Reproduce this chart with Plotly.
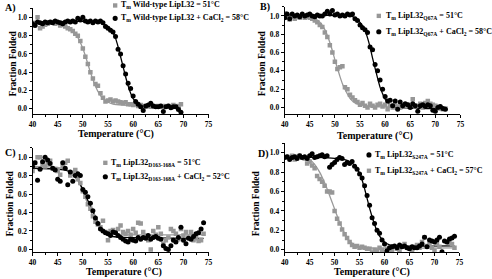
import plotly.graph_objects as go

W, H = 492, 279

# ---------------- Panel A: Wild-type LipL32 ----------------
A_T = [40.0,40.5,41.0,41.5,42.0,42.5,43.0,43.5,44.0,44.5,45.0,45.5,46.0,46.5,47.0,47.5,48.0,48.5,49.0,49.5,
       50.0,50.5,51.0,51.5,52.0,52.5,53.0,53.5,54.0,54.5,55.0,55.5,56.0,56.5,57.0,57.5,58.0,58.5,59.0,59.5,
       60.0,60.5,61.0,61.5,62.0,62.5,63.0,63.5,64.0,64.5,65.0,65.5,66.0,66.5,67.0,67.5,68.0,68.5,69.0,69.5]
A_gray = [0.94,0.92,1.00,0.88,0.90,0.92,0.93,0.94,0.95,0.93,0.94,0.91,0.92,0.90,0.88,0.87,0.85,0.82,0.80,0.74,
          0.66,0.57,0.49,0.40,0.33,0.27,0.25,0.17,0.12,0.08,0.09,0.10,0.08,0.09,0.08,0.07,0.06,0.07,0.05,0.05,
          0.04,0.05,0.03,0.04,0.03,0.02,0.03,0.02,0.03,0.02,0.03,0.02,0.03,0.02,0.03,0.02,0.04,0.02,0.03,0.05]
A_black = [0.93,0.91,0.95,0.94,0.93,0.95,0.94,0.95,0.94,0.96,0.95,0.94,0.93,0.95,0.96,0.95,0.96,0.95,0.99,0.97,
           1.00,0.96,0.95,0.96,0.94,0.96,0.95,0.96,0.94,0.90,0.88,0.86,0.84,0.79,0.65,0.60,0.47,0.38,0.28,0.22,
           0.14,0.08,0.05,0.02,-0.02,0.03,0.04,0.06,0.03,0.02,0.02,0.03,-0.03,0.02,0.03,0.01,0.02,0.02,-0.01,-0.04]
A_fit_gray_T = [40, 44, 46, 47, 48, 49, 50, 50.5, 51, 51.5, 52, 52.5, 53, 54, 55, 56, 58, 62, 69.5]
A_fit_gray = [0.94, 0.935, 0.92, 0.90, 0.86, 0.78, 0.66, 0.58, 0.49, 0.40, 0.32, 0.25, 0.19, 0.11, 0.07, 0.05, 0.04, 0.03, 0.03]
A_fit_black_T = [40, 53, 54, 55, 56, 56.5, 57, 57.5, 58, 58.5, 59, 59.5, 60, 61, 62, 69.5]
A_fit_black = [0.95, 0.95, 0.93, 0.90, 0.83, 0.77, 0.68, 0.57, 0.46, 0.35, 0.25, 0.17, 0.11, 0.05, 0.02, 0.01]

# ---------------- Panel B: LipL32 Q67A ----------------
B_T = [40.0 + 0.5 * i for i in range(65)]
B_gray = [1.03,0.98,0.96,0.99,0.97,0.99,0.98,1.00,0.98,0.99,0.98,0.97,0.95,0.93,0.90,0.88,0.82,0.77,0.68,0.60,
          0.50,0.42,0.44,0.45,0.22,0.20,0.14,0.11,0.08,0.06,0.03,0.05,0.02,0.00,0.04,0.02,0.00,0.03,0.04,0.01,
          0.03,-0.02,0.02,0.00,0.03,0.01,0.00,0.02,0.01,0.03,0.02,0.09,0.01,0.02,0.04,0.00,0.05,0.07,0.04,0.03,
          0.02,0.01,-0.01,-0.02,-0.01]
B_black = [0.98,1.02,0.97,1.02,1.00,1.01,0.99,1.02,1.00,1.01,1.02,1.00,0.99,1.01,1.00,1.00,1.02,1.05,1.02,1.06,
           1.01,1.02,1.00,1.01,1.00,1.02,1.01,1.02,0.97,0.95,0.90,0.87,0.85,0.82,0.66,0.63,0.47,0.40,0.30,0.20,
           0.12,0.07,0.08,0.02,0.07,-0.02,0.06,0.02,0.04,0.03,0.00,0.04,0.02,-0.04,0.02,0.03,0.01,0.03,0.02,-0.03,
           -0.04,0.00,0.01,-0.01,-0.02]
B_fit_gray_T = [40, 45, 46, 47, 48, 49, 49.5, 50, 50.5, 51, 51.5, 52, 53, 54, 55, 57, 72]
B_fit_gray = [1.00, 0.99, 0.97, 0.93, 0.85, 0.71, 0.62, 0.52, 0.43, 0.34, 0.26, 0.20, 0.10, 0.05, 0.03, 0.01, 0.01]
B_fit_black_T = [40, 53, 54, 55, 56, 56.5, 57, 57.5, 58, 58.5, 59, 59.5, 60, 61, 62, 72]
B_fit_black = [1.01, 1.00, 0.98, 0.93, 0.84, 0.76, 0.66, 0.54, 0.43, 0.32, 0.22, 0.15, 0.09, 0.03, 0.00, -0.01]

# ---------------- Panel C: LipL32 D163-168A ----------------
C_T = [40.0 + 0.5 * i for i in range(69)]
C_gray = [0.85,0.94,1.00,1.00,0.92,0.90,0.93,0.96,0.88,0.87,0.85,0.81,0.90,0.94,0.96,0.80,0.83,0.86,0.76,0.72,
          0.63,0.57,0.49,0.44,0.36,0.30,0.27,0.24,0.31,0.19,0.10,0.20,0.21,0.18,0.22,0.26,0.19,0.17,0.20,0.16,
          0.22,0.18,0.29,0.28,0.19,0.15,0.10,0.00,0.20,0.16,0.24,0.17,0.06,0.10,0.13,0.22,0.20,0.17,0.11,0.22,
          0.15,0.19,0.13,0.19,0.10,0.12,0.09,0.10,0.17]
C_black = [0.90,0.94,0.75,0.87,0.95,1.00,0.97,0.93,0.88,0.86,0.76,0.74,0.94,0.88,0.70,0.84,0.74,0.80,0.82,0.80,
           0.65,0.62,0.57,0.50,0.42,0.34,0.28,0.22,0.20,0.18,0.17,0.15,0.19,0.18,0.15,0.13,0.11,0.09,0.08,0.11,
           0.10,0.09,0.13,0.11,0.13,0.12,0.15,0.11,0.13,0.14,0.12,0.11,0.04,0.01,0.00,0.04,0.10,0.08,0.13,0.24,
           0.10,0.06,0.12,0.11,0.14,0.17,0.18,0.22,0.29]
C_fit_gray_T = [40, 45, 47, 48, 49, 50, 51, 52, 53, 54, 55, 57, 74]
C_fit_gray = [0.90, 0.89, 0.86, 0.82, 0.75, 0.63, 0.49, 0.36, 0.26, 0.20, 0.17, 0.16, 0.16]
C_fit_black_T = [40, 45, 47, 48, 49, 50, 51, 52, 53, 54, 55, 56, 58, 74]
C_fit_black = [0.88, 0.87, 0.85, 0.81, 0.75, 0.65, 0.53, 0.41, 0.30, 0.21, 0.16, 0.14, 0.13, 0.12]

# ---------------- Panel D: LipL32 S247A ----------------
D_T = [40.0 + 0.5 * i for i in range(69)]
D_black = [0.95,0.96,0.93,0.95,0.96,0.94,0.97,0.95,0.96,0.94,0.97,0.99,0.95,0.96,0.97,0.98,0.96,0.97,0.85,0.88,
           0.90,0.93,0.95,0.94,0.88,0.90,0.89,0.91,0.86,0.83,0.78,0.74,0.66,0.56,0.46,0.33,0.27,0.20,0.17,0.10,
           0.06,-0.01,0.02,0.03,0.04,0.02,0.05,0.03,0.04,0.02,0.01,0.03,0.02,0.02,0.04,0.06,0.13,0.03,0.10,0.09,
           0.08,0.10,0.13,-0.02,0.09,0.08,0.11,0.12,0.14]
D_gray_T = [40.0 + 0.5 * i for i in range(63)] + [72.5, 73.0, 73.5, 74.0]
D_gray = [0.95,0.96,0.95,0.97,0.93,0.96,0.97,0.95,0.94,0.89,0.91,0.87,0.84,0.76,0.73,0.70,0.66,0.60,0.60,0.59,
          0.40,0.32,0.27,0.21,0.16,0.12,0.08,0.05,0.03,0.04,0.02,0.03,0.02,0.01,0.01,-0.03,0.00,-0.01,0.02,0.00,
          -0.03,0.01,0.02,0.00,0.03,0.01,-0.01,0.04,0.06,0.02,0.01,-0.01,0.03,0.05,0.02,0.08,0.13,0.04,0.06,0.02,
          -0.01,0.06,0.03,0.08,0.07,0.06,0.02]
D_open_T = [71.5, 72.2]
D_open = [-0.06, -0.06]
D_fit_black_T = [40, 48, 52, 53, 54, 55, 55.5, 56, 56.5, 57, 57.5, 58, 58.5, 59, 60, 61, 63, 74]
D_fit_black = [0.96, 0.95, 0.93, 0.91, 0.87, 0.79, 0.72, 0.63, 0.53, 0.43, 0.34, 0.26, 0.19, 0.14, 0.08, 0.05, 0.04, 0.04]
D_fit_gray_T = [40, 44, 45, 46, 47, 48, 49, 49.5, 50, 50.5, 51, 52, 53, 54, 55, 57, 74]
D_fit_gray = [0.96, 0.95, 0.93, 0.88, 0.80, 0.69, 0.56, 0.49, 0.42, 0.35, 0.28, 0.17, 0.09, 0.05, 0.03, 0.02, 0.02]

GRAY = "#979797"
GRAY_LINE = "#9a9a9a"
FONT = "Liberation Serif"

fig = go.Figure()


def add_panel(idx, series, fits, extra=None):
    xa = "x" if idx == 1 else f"x{idx}"
    ya = "y" if idx == 1 else f"y{idx}"
    for (xs, ys, col) in fits:
        fig.add_trace(go.Scatter(x=xs, y=ys, mode="lines", line=dict(color=col, width=1.3, shape="spline", smoothing=0.6),
                                 xaxis=xa, yaxis=ya, showlegend=False, hoverinfo="skip"))
    for (xs, ys, sym, col, size) in series:
        fig.add_trace(go.Scatter(x=xs, y=ys, mode="markers",
                                 marker=dict(symbol=sym, color=col, size=size, line=dict(width=0)),
                                 xaxis=xa, yaxis=ya, showlegend=False))
    if extra:
        xs, ys = extra
        fig.add_trace(go.Scatter(x=xs, y=ys, mode="markers",
                                 marker=dict(symbol="square-open", color=GRAY, size=4.5, line=dict(width=1)),
                                 xaxis=xa, yaxis=ya, showlegend=False))


add_panel(1, [(A_T, A_gray, "square", GRAY, 4.5), (A_T, A_black, "circle", "black", 5)],
          [(A_fit_gray_T, A_fit_gray, GRAY_LINE), (A_fit_black_T, A_fit_black, "black")])
add_panel(2, [(B_T, B_gray, "square", GRAY, 4.5), (B_T, B_black, "circle", "black", 5)],
          [(B_fit_gray_T, B_fit_gray, GRAY_LINE), (B_fit_black_T, B_fit_black, "black")])
add_panel(3, [(C_T, C_gray, "square", GRAY, 4.5), (C_T, C_black, "circle", "black", 5)],
          [(C_fit_gray_T, C_fit_gray, GRAY_LINE), (C_fit_black_T, C_fit_black, "black")])
add_panel(4, [(D_gray_T, D_gray, "square", GRAY, 4.5), (D_T, D_black, "circle", "black", 5)],
          [(D_fit_gray_T, D_fit_gray, GRAY_LINE), (D_fit_black_T, D_fit_black, "black")],
          extra=(D_open_T, D_open))


def px(x):
    return x / W


def py(y):
    return 1 - y / H


# axis geometry: (x-domain px, y-domain px bottom/top, y-range)
geom = {
    1: ((29, 208), (115.0, 8.3), [-0.06, 1.10]),
    2: ((285.3, 464), (115.0, 6.8), [-0.073, 1.10]),
    3: ((29, 208), (254.0, 149.0), [-0.03, 1.10]),
    4: ((285.3, 463), (254.0, 144.1), [-0.025, 1.10]),
}

tickfont = dict(family=FONT, size=7.5, color="black", weight="bold")
for i, ((x0, x1), (yb, yt), yr) in geom.items():
    xk = "xaxis" if i == 1 else f"xaxis{i}"
    yk = "yaxis" if i == 1 else f"yaxis{i}"
    ya = "y" if i == 1 else f"y{i}"
    xa = "x" if i == 1 else f"x{i}"
    fig.layout[xk] = dict(domain=[px(x0), px(x1)], range=[40, 75], anchor=ya, dtick=5, tick0=40,
                          showline=True, linecolor="black", linewidth=1, ticks="outside", ticklen=2.5,
                          tickcolor="black", tickfont=tickfont, showgrid=False, zeroline=False,
                          minor=dict(ticks="outside", ticklen=1.5, dtick=2.5, tickcolor="black"))
    fig.layout[yk] = dict(domain=[py(yb), py(yt)], range=yr, anchor=xa, dtick=0.2, tick0=0,
                          tickformat=".1f", showline=True, linecolor="black", linewidth=1,
                          ticks="outside", ticklen=3, tickcolor="black", tickfont=tickfont,
                          showgrid=False, zeroline=False,
                          minor=dict(ticks="outside", ticklen=1.5, dtick=0.1, tickcolor="black"))

ann = []


def text(x, y, s, size, xanchor="center", angle=0):
    ann.append(dict(x=px(x), y=py(y), xref="paper", yref="paper", text=s, showarrow=False,
                    xanchor=xanchor, yanchor="middle", textangle=angle, borderpad=0,
                    font=dict(family=FONT, size=size, color="black")))


# panel labels
text(7, 8, "<b>A)</b>", 10)
text(265, 7.5, "<b>B)</b>", 10)
text(7, 154, "<b>C)</b>", 10)
text(264, 155, "<b>D)</b>", 10)

# axis titles
for (x, y) in [(114, 135), (377, 136.5), (122, 274), (374, 273.5)]:
    text(x, y, "<b>Temperature (°C)</b>", 10)
for (x, y) in [(9, 64), (262, 64), (6, 205), (256, 205)]:
    text(x, y, "<b>Fraction Folded</b>", 9.5, angle=-90)

# legends
legends = [
    (113, 118, 5.5, 18.5, "square", GRAY, "T<sub>m</sub> Wild-type LipL32 = 51°C",
     "circle", "black", "T<sub>m</sub> Wild-type LipL32 + CaCl<sub>2</sub> = 58°C"),
    (381, 387, 16, 32, "square", GRAY, "T<sub>m</sub> LipL32<sub>Q67A</sub> = 51°C",
     "circle", "black", "T<sub>m</sub> LipL32<sub>Q67A</sub> + CaCl<sub>2</sub> = 58°C"),
    (103, 108, 164, 178, "square", GRAY, "T<sub>m</sub> LipL32<sub>D163-168A</sub> = 51°C",
     "circle", "black", "T<sub>m</sub> LipL32<sub>D163-168A</sub> + CaCl<sub>2</sub> = 52°C"),
    (371, 376, 156, 172, "circle", "black", "T<sub>m</sub> LipL32<sub>S247A</sub> = 51°C",
     "square", GRAY, "T<sub>m</sub> LipL32<sub>S247A</sub> + CaCl<sub>2</sub> = 57°C"),
]
shapes = []
for (mx, tx, y1, y2, s1, c1, l1, s2, c2, l2) in legends:
    for (yy, s, c, lab) in [(y1, s1, c1, l1), (y2, s2, c2, l2)]:
        r = 2.2 if s == "square" else 2.6
        shapes.append(dict(type="rect" if s == "square" else "circle", xref="paper", yref="paper",
                           x0=px(mx - r), x1=px(mx + r), y0=py(yy + r), y1=py(yy - r),
                           fillcolor=c, line=dict(width=0)))
        text(tx, yy, "<b>" + lab + "</b>", 8, xanchor="left")

fig.update_layout(width=W, height=H, margin=dict(l=0, r=0, t=0, b=0), paper_bgcolor="white",
                  plot_bgcolor="white", annotations=ann, shapes=shapes, showlegend=False)

fig.write_html("out.html", config={"displayModeBar": False},
               post_script="document.body.style.margin='0';document.body.style.overflow='hidden';")
